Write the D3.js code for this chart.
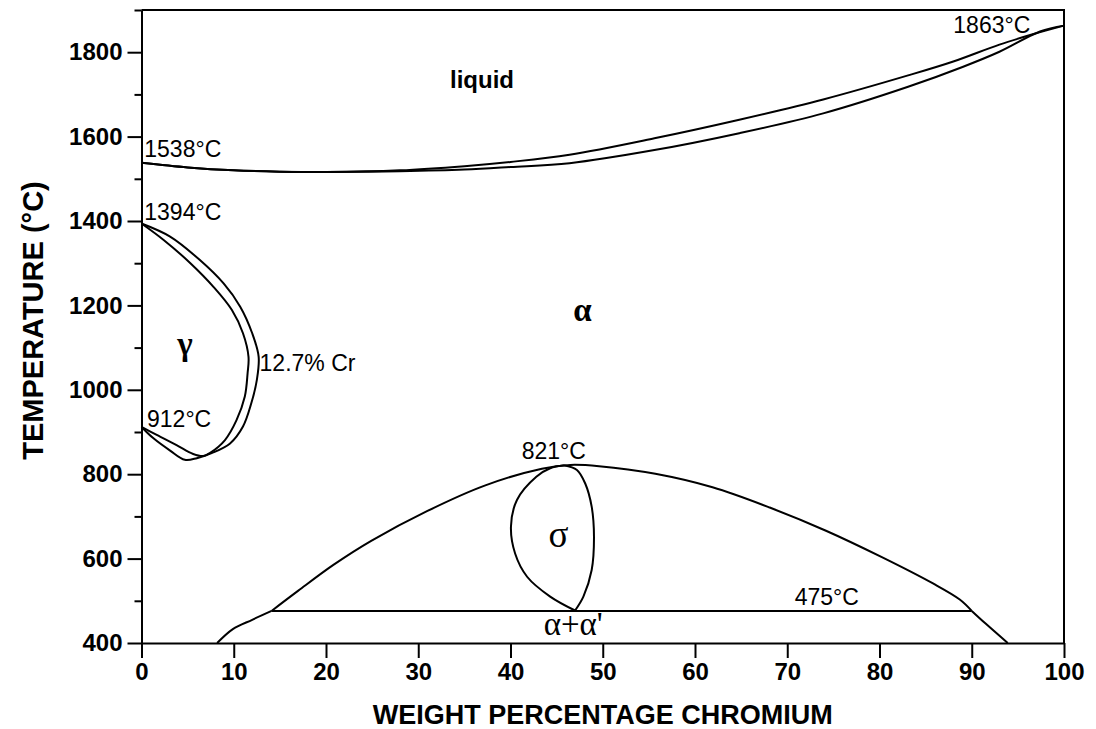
<!DOCTYPE html>
<html>
<head>
<meta charset="utf-8">
<script src="https://cdn.jsdelivr.net/npm/d3@7"></script>
<style>
  html, body { margin: 0; padding: 0; background: #fff; }
  svg { display: block; }
  text { font-family: "Liberation Sans", Arial, sans-serif; fill: #000; }
</style>
</head>
<body>
<svg id="chart" width="1096" height="729"></svg>
<script>
// Fe–Cr equilibrium phase diagram (wt% Cr vs temperature, °C)

const xTicks = [0, 10, 20, 30, 40, 50, 60, 70, 80, 90, 100];
const yTicks = [400, 600, 800, 1000, 1200, 1400, 1600, 1800];
const yMinorTicks = [500, 700, 900, 1100, 1300, 1500, 1700, 1900];

// [wt% Cr, °C]
const liquidus = [[0,1538],[5,1527],[10,1520],[15,1517],[20,1516],[28,1520],[35,1530],[40,1540],[46.4,1557],[55.6,1596],[64.8,1640],[73.9,1688],[83.1,1745],[88,1778],[93,1818],[96.7,1843],[100,1863]];
const solidus = [[0,1538],[5,1527],[10,1520],[15,1517],[20,1516],[28,1518],[35,1522],[40,1528],[46.4,1537],[55.6,1568],[64.8,1608],[73.9,1655],[83.1,1718],[89,1765],[93,1801],[97.4,1849],[100,1863]];

const gammaOuter = [[0,1394],[3.1,1363],[6.3,1308],[8.9,1252],[10.7,1197],[12.0,1134],[12.7,1078],[12.5,1023],[11.9,968],[11.0,913],[9.6,873],[7.6,850],[6.0,838],[4.7,834],[3.1,856],[1.3,885],[0,912]];
const gammaInner = [[0,1394],[2.4,1355],[5.3,1300],[7.8,1244],[9.8,1189],[11.0,1134],[11.6,1078],[11.5,1039],[11.2,984],[10.3,928],[9.05,881],[7.4,850],[6.7,843],[5.6,848],[3.8,869],[1.65,893],[0,912]];

const sigmaLeft = [[45.8,821],[44.3,814],[42.8,794],[40.7,739],[40.05,676],[40.5,612],[41.8,557],[44.3,510],[47.0,477]];
const sigmaRight = [[45.8,821],[47.2,810],[48.1,778],[48.8,723],[49.05,652],[48.8,573],[47.9,510],[47.0,477]];

const domeLow = [[8.2,400],[9.9,433],[12,455],[14.1,476]];
const domeTop = [[14.1,476],[17,524],[20.8,585],[24.9,642],[31,713],[37.2,773],[43.4,813],[46.5,822],[49.6,819],[55.7,801],[61.9,769],[68.1,721],[74.2,666],[80.2,604],[85.8,541],[88.7,503],[90,476]];
const domeHigh = [[90,476],[91.5,446],[93.9,400]];

const isotherm475 = [[14.1,476],[90,476]];

// label: [text, x wt%, y °C, anchor]
const tempLabels = [
  ["1538°C", 0.3, 1551, "start"],
  ["1394°C", 0.3, 1402, "start"],
  ["912°C", 0.6, 913, "start"],
  ["12.7% Cr", 12.8, 1045, "start"],
  ["821°C", 44.7, 835, "middle"],
  ["475°C", 70.8, 491, "start"],
  ["1863°C", 88, 1845, "start"]
];

const svg = d3.select("#chart");
const x = d3.scaleLinear().domain([0, 100]).range([141.5, 1064]);
const y = d3.scaleLinear().domain([400, 1900]).range([643, 10]);

const line = d3.line().x(d => x(d[0])).y(d => y(d[1])).curve(d3.curveCatmullRom.alpha(0.5));
const straight = d3.line().x(d => x(d[0])).y(d => y(d[1]));

// frame (top and right)
svg.append("path")
  .attr("d", `M${x(0)},${y(1900)}H${x(100)}V${y(400)}`)
  .attr("fill", "none").attr("stroke", "#000").attr("stroke-width", 2);

// x axis
const xAxis = svg.append("g").attr("transform", `translate(0,${y(400)})`)
  .call(d3.axisBottom(x).tickValues(xTicks).tickSize(15).tickPadding(5).tickSizeOuter(0));
xAxis.select(".domain").attr("stroke-width", 2);
xAxis.selectAll(".tick line").attr("stroke-width", 2);
xAxis.selectAll("text").attr("font-size", 24).attr("font-weight", "bold")
  .attr("font-family", "Liberation Sans, Arial, sans-serif");

// y axis
const yAxis = svg.append("g").attr("transform", `translate(${x(0)},0)`)
  .call(d3.axisLeft(y).tickValues(yTicks).tickFormat(d3.format("d")).tickSize(14).tickPadding(5).tickSizeOuter(0));
yAxis.select(".domain").attr("stroke-width", 2);
yAxis.selectAll(".tick line").attr("stroke-width", 2);
yAxis.selectAll("text").attr("font-size", 24).attr("font-weight", "bold")
  .attr("font-family", "Liberation Sans, Arial, sans-serif");

const yMinor = svg.append("g").attr("transform", `translate(${x(0)},0)`)
  .call(d3.axisLeft(y).tickValues(yMinorTicks).tickSize(7).tickFormat("").tickSizeOuter(0));
yMinor.select(".domain").remove();
yMinor.selectAll(".tick line").attr("stroke-width", 2);

// axis titles
svg.append("text").attr("x", (x(0) + x(100)) / 2).attr("y", 724)
  .attr("text-anchor", "middle").attr("font-size", 27).attr("font-weight", "bold")
  .text("WEIGHT PERCENTAGE CHROMIUM");
svg.append("text").attr("transform", `translate(43,${(y(400) + y(1900)) / 2 - 6}) rotate(-90)`)
  .attr("text-anchor", "middle").attr("font-size", 29).attr("font-weight", "bold")
  .text("TEMPERATURE (°C)");

// phase boundaries
const curves = [liquidus, solidus, gammaOuter, gammaInner, sigmaLeft, sigmaRight, domeLow, domeTop, domeHigh];
svg.append("g").selectAll("path").data(curves).join("path")
  .attr("d", line).attr("fill", "none").attr("stroke", "#000")
  .attr("stroke-width", 2).attr("stroke-linejoin", "round");

svg.append("path").attr("d", straight(isotherm475))
  .attr("fill", "none").attr("stroke", "#000").attr("stroke-width", 2);

// temperature / composition annotations
svg.append("g").selectAll("text").data(tempLabels).join("text")
  .attr("x", d => x(d[1])).attr("y", d => y(d[2]))
  .attr("text-anchor", d => d[3]).attr("font-size", 23)
  .text(d => d[0]);

// phase field labels
const serif = "Liberation Serif, Times New Roman, serif";
svg.append("text").attr("x", 450).attr("y", 88).attr("font-size", 24).attr("font-weight", "bold").text("liquid");
svg.append("text").attr("x", x(47.8)).attr("y", 321).attr("text-anchor", "middle")
  .attr("font-size", 33).attr("font-weight", "bold").style("font-family", serif).text("α");
svg.append("text").attr("x", x(4.7)).attr("y", 355).attr("text-anchor", "middle")
  .attr("font-size", 33).attr("font-weight", "bold").style("font-family", serif).text("γ");
svg.append("text").attr("x", x(45.2)).attr("y", 547).attr("text-anchor", "middle")
  .attr("font-size", 37).style("font-family", serif).text("σ");
svg.append("text").attr("x", x(46.8)).attr("y", 635).attr("text-anchor", "middle")
  .attr("font-size", 33).style("font-family", serif).text("α+α'");
</script>
</body>
</html>
